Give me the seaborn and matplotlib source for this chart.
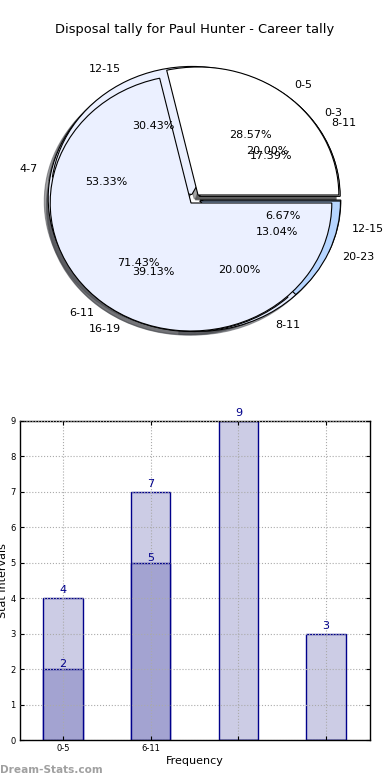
import matplotlib
matplotlib.use("Agg")
import matplotlib.pyplot as plt
import seaborn as sns
import pandas as pd

# ---------------- data ----------------
title = "Disposal tally for Paul Hunter - Career tally"

pie_a_labels = ["0-5", "6-11"]
pie_a_values = [2, 5]
pie_b_labels = ["8-11", "12-15", "16-19", "20-23"]
pie_b_values = [4, 7, 9, 3]
pie_c_labels = ["0-3", "4-7", "8-11", "12-15"]
pie_c_values = [3, 8, 3, 1]

bar_categories = ["0-5", "6-11", "bin3", "bin4"]
bar_tick_labels = ["0-5", "6-11", "", ""]
bar_back = [4, 7, 9, 3]
bar_front = [2, 5, 0, 0]

x_label = "Frequency"
y_label = "Stat Intervals"
watermark = "Dream-Stats.com"

# ---------------- style ----------------
pie_colors = ["#FFFFFF", "#EBF0FF", "#E4ECFF", "#B6D5FF"]
back_color = "#CCCCE5"
front_color = "#A3A3D1"
edge_color = "#00008B"

fig = plt.figure(figsize=(3.9, 7.8), dpi=100)
fig.text(0.5, 1 - 30 / 780, title, ha="center", va="center", fontsize=9.4)

# ---------------- pies ----------------
ax1 = fig.add_axes([18.5 / 390, 1 - 359 / 780, 352 / 390, 320 / 780])
for labels, values in [(pie_c_labels, pie_c_values),
                       (pie_b_labels, pie_b_values),
                       (pie_a_labels, pie_a_values)]:
    wedges, texts, autotexts = ax1.pie(
        values, labels=labels, autopct="%1.2f%%",
        colors=pie_colors[:len(values)], explode=[0.04] * len(values),
        shadow=True, startangle=0,
        wedgeprops=dict(edgecolor="black", linewidth=0.8),
        textprops=dict(fontsize=8))
ax1.set_aspect("auto")
ax1.set_xlim(-1.25, 1.25)
ax1.set_ylim(-1.25, 1.25)
ax1.axis("off")

# ---------------- bars ----------------
ax2 = fig.add_axes([20 / 390, 40 / 780, 350 / 390, 319 / 780])
df = pd.DataFrame({"cat": bar_categories, "back": bar_back, "front": bar_front})
sns.barplot(data=df, x="cat", y="back", order=bar_categories, color=back_color,
            edgecolor=edge_color, linewidth=1, width=0.45, saturation=1,
            errorbar=None, ax=ax2)
sns.barplot(data=df, x="cat", y="front", order=bar_categories, color=front_color,
            edgecolor=edge_color, linewidth=1, width=0.45, saturation=1,
            errorbar=None, ax=ax2)

ax2.bar_label(ax2.containers[0], labels=[str(v) for v in bar_back],
              color=edge_color, fontsize=8, padding=2, clip_on=False)
ax2.bar_label(ax2.containers[1], labels=[str(v) if v else "" for v in bar_front],
              color=edge_color, fontsize=8, padding=0, clip_on=False)

ax2.set_xlim(-0.49, 3.5)
ax2.set_ylim(0, 9)
ax2.set_yticks(range(0, 10))
ax2.set_xticks(range(len(bar_categories)))
ax2.set_xticklabels(bar_tick_labels)
ax2.tick_params(direction="in", top=True, right=True, length=3, labelsize=6,
                pad=3)
ax2.grid(True, linestyle=":", color="#AAAAAA", linewidth=0.8)
ax2.set_axisbelow(False)
for s in ax2.spines.values():
    s.set_color("black")
    s.set_linewidth(1)
ax2.set_xlabel(x_label, fontsize=8, labelpad=2)
ax2.set_ylabel(y_label, fontsize=8, labelpad=2)

fig.text(0.0, 1 - 770 / 780, watermark, ha="left", va="center", fontsize=7.6,
         color="#A0A0A0", fontweight="bold")

fig.savefig("out.png", dpi=100)
